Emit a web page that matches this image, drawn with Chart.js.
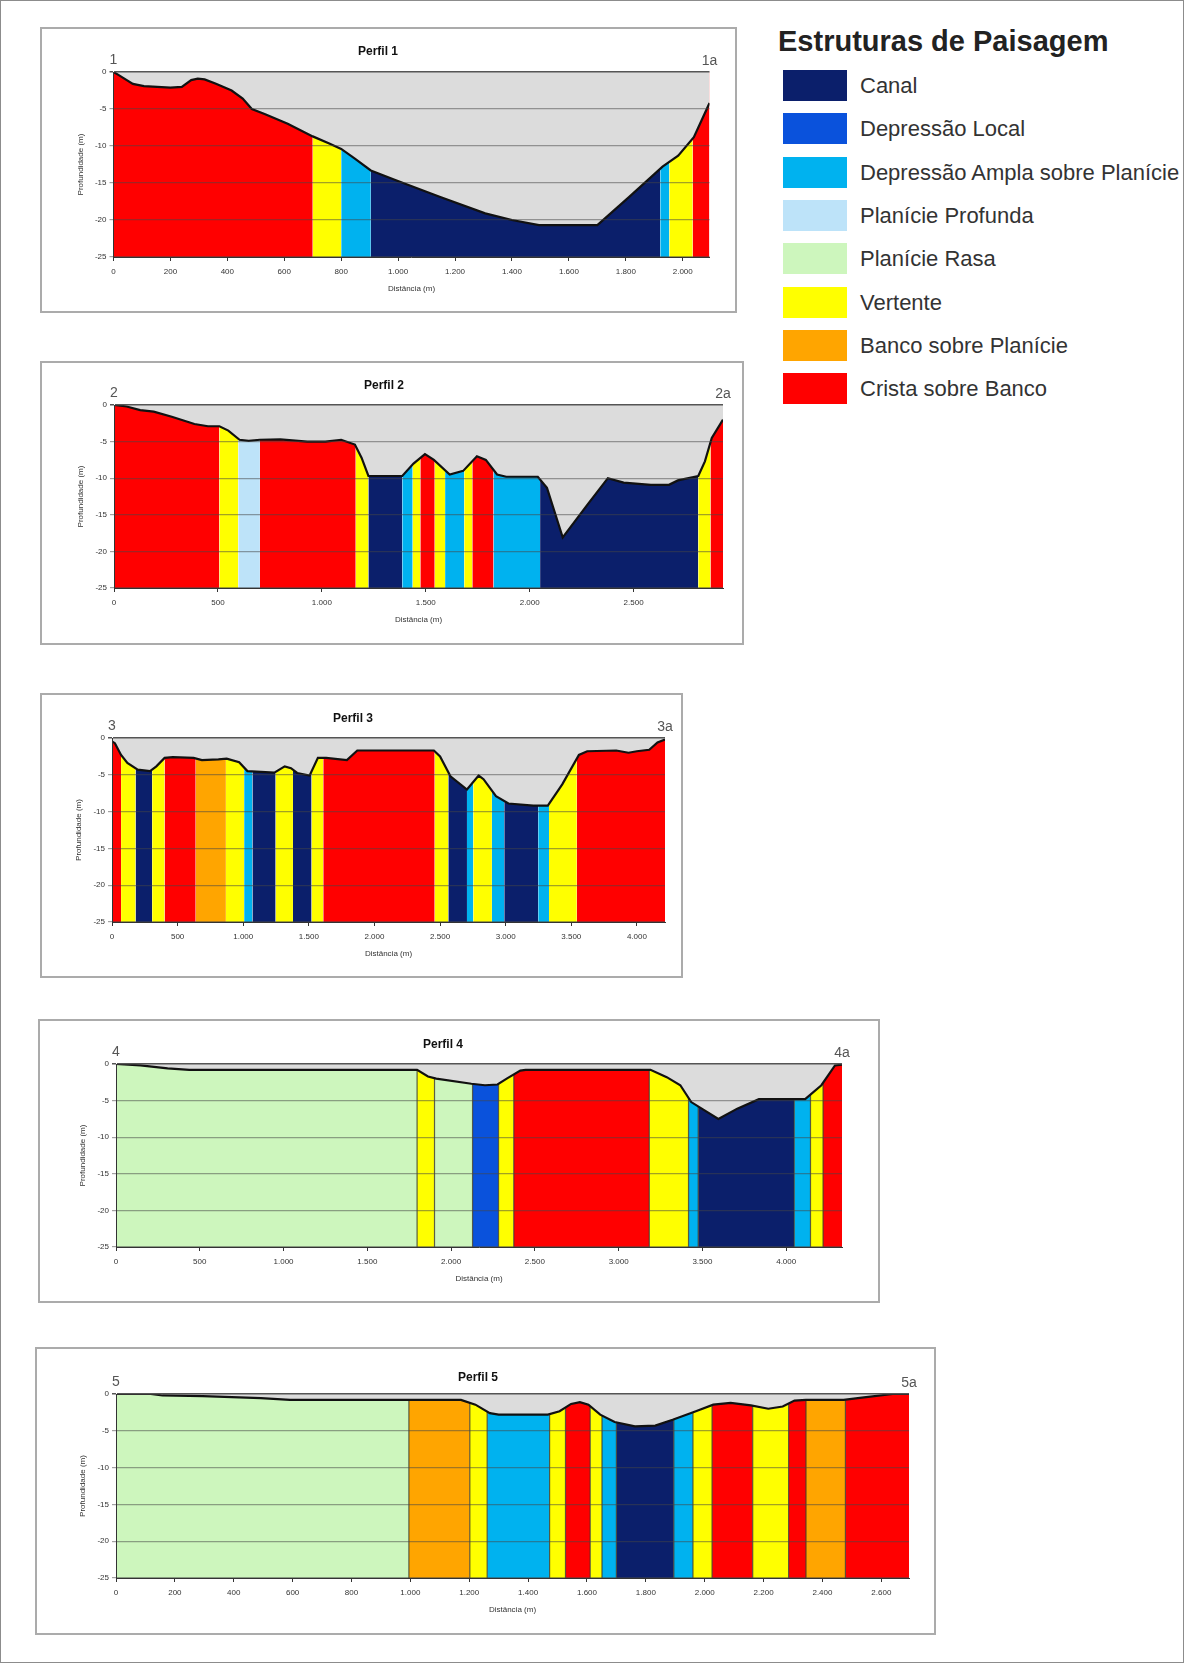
<!DOCTYPE html>
<html lang="pt-BR">
<head>
<meta charset="UTF-8">
<title>Estruturas de Paisagem - Perfis</title>
<script src="https://cdn.jsdelivr.net/npm/chart.js"></script>
<style>
  body { margin: 0; background: #fff; font-family: "Liberation Sans", Arial, sans-serif; }
  .frame { position: absolute; left: 0; top: 0; width: 1184px; height: 1663px; box-sizing: border-box; border: 1px solid #8c8c8c; }
  .box { position: absolute; box-sizing: border-box; border: 2px solid #ababab; }
  canvas { position: absolute; }
  .ttl { position: absolute; font-weight: bold; font-size: 12px; line-height: 1; color: #111; transform: translate(-50%, -50%); white-space: nowrap; }
  .corner { position: absolute; font-size: 14px; line-height: 1; color: #555; transform: translate(-50%, -50%); }
  .legend-title { position: absolute; left: 778px; top: 26px; font-size: 29px; line-height: 30px; font-weight: bold; color: #222; white-space: nowrap; }
  .swatch { position: absolute; left: 783px; width: 64px; height: 31px; }
  .legend-label { position: absolute; left: 860px; font-size: 22px; line-height: 31px; color: #333; white-space: nowrap; }
</style>
</head>
<body>
<div class="frame"></div>
<div class="legend-title">Estruturas de Paisagem</div>

<script>
// classes de estrutura
const classNames = ['Canal', 'Depressão Local', 'Depressão Ampla sobre Planície', 'Planície Profunda',
                    'Planície Rasa', 'Vertente', 'Banco sobre Planície', 'Crista sobre Banco'];
const classColors = ['#0b1f6b', '#0a52dc', '#00b2ef', '#bde3f9', '#cdf6bd', '#ffff00', '#ffa500', '#ff0000'];

// Perfil 1
const p1Dist = [0, 20, 68, 107, 200, 240, 273, 296, 320, 360, 415, 454, 486, 533, 612, 700, 760, 800, 848, 904,
                990, 1148, 1306, 1400, 1495, 1700, 1811, 1929, 1984, 2039, 2094];
const p1Depth = [0, -0.45, -1.6, -1.9, -2.1, -2.0, -1.1, -0.9, -1.0, -1.6, -2.5, -3.6, -5.0, -5.7, -7.0, -8.7, -9.7, -10.4, -11.7, -13.3,
                 -14.6, -16.9, -19.1, -20.0, -20.7, -20.7, -16.9, -12.8, -11.3, -8.8, -4.2];
const p1Bounds = [0, 700, 800, 904, 1921, 1953, 2035, 2094];
const p1Classes = [7, 5, 2, 0, 2, 5, 7];
const p1Ticks = [0, 200, 400, 600, 800, 1000, 1200, 1400, 1600, 1800, 2000];

// Perfil 2
const p2Dist = [0, 61, 126, 191, 278, 387, 452, 507, 550, 604, 648, 702, 800, 930, 1017, 1093, 1159, 1191, 1224, 1387,
                1441, 1496, 1539, 1615, 1680, 1746, 1789, 1843, 1887, 2039, 2083, 2159, 2278, 2376, 2452, 2583, 2670, 2713,
                2811, 2843, 2876, 2930];
const p2Depth = [0, -0.2, -0.7, -0.9, -1.6, -2.6, -2.9, -2.9, -3.5, -4.75, -4.9, -4.75, -4.7, -5.0, -5.0, -4.75, -5.4, -7.2, -9.7, -9.7,
                 -8.0, -6.7, -7.5, -9.5, -9.0, -7.0, -7.5, -9.5, -9.8, -9.8, -11.3, -18.1, -13.6, -10.0, -10.6, -10.9, -10.9, -10.3,
                 -9.7, -7.7, -4.5, -2.0];
const p2Bounds = [0, 507, 598, 702, 1163, 1224, 1387, 1437, 1474, 1543, 1593, 1685, 1724, 1826, 2050, 2811, 2870, 2930];
const p2Classes = [7, 5, 3, 7, 5, 0, 2, 5, 7, 5, 2, 5, 7, 2, 0, 5, 7];
const p2Ticks = [0, 500, 1000, 1500, 2000, 2500];

// Perfil 3
const p3Dist = [0, 22, 69, 117, 196, 290, 338, 401, 464, 622, 685, 811, 874, 969, 1032, 1237, 1316, 1364, 1411, 1506,
                1569, 1632, 1790, 1869, 1948, 2453, 2500, 2579, 2705, 2794, 2831, 2926, 3021, 3210, 3321, 3431, 3558, 3621,
                3842, 3936, 3999, 4094, 4157, 4214];
const p3Depth = [-0.45, -0.7, -2.3, -3.4, -4.3, -4.5, -3.85, -2.7, -2.6, -2.7, -3.0, -2.9, -2.8, -3.3, -4.5, -4.7, -3.85, -4.1, -4.75, -5.1,
                 -2.7, -2.7, -3.0, -1.7, -1.7, -1.7, -2.5, -5.2, -7.0, -5.1, -5.6, -7.9, -8.9, -9.2, -9.2, -6.3, -2.3, -1.8,
                 -1.7, -2.0, -1.8, -1.6, -0.6, -0.2];
const p3Bounds = [0, 69, 180, 306, 401, 638, 868, 1007, 1070, 1247, 1379, 1521, 1610, 2459, 2563, 2705, 2753, 2895, 2989, 3248, 3330, 3542, 4214];
const p3Classes = [7, 5, 0, 5, 7, 6, 5, 2, 0, 5, 0, 5, 7, 5, 0, 2, 5, 2, 0, 2, 5, 7];
const p3Ticks = [0, 500, 1000, 1500, 2000, 2500, 3000, 3500, 4000];

// Perfil 4
const p4Dist = [0, 146, 308, 437, 793, 1797, 1862, 1911, 2121, 2202, 2277, 2332, 2413, 2445, 3190, 3287, 3368, 3433, 3595, 3708,
                3837, 4113, 4210, 4291, 4333];
const p4Depth = [0, -0.2, -0.6, -0.8, -0.8, -0.8, -1.7, -2.0, -2.7, -2.9, -2.8, -2.0, -0.9, -0.8, -0.8, -1.8, -2.9, -5.2, -7.5, -6.1,
                 -4.8, -4.8, -2.9, -0.2, -0.1];
const p4Bounds = [0, 1797, 1901, 2128, 2283, 2374, 3183, 3417, 3475, 4048, 4145, 4220, 4333];
const p4Classes = [4, 5, 4, 1, 5, 7, 5, 2, 0, 2, 5, 7];
const p4Ticks = [0, 500, 1000, 1500, 2000, 2500, 3000, 3500, 4000];

// Perfil 5
const p5Dist = [0, 39, 118, 158, 295, 492, 591, 1005, 1172, 1221, 1270, 1300, 1467, 1507, 1546, 1576, 1605, 1645, 1694, 1763,
                1832, 1891, 1970, 2029, 2088, 2157, 2216, 2265, 2305, 2344, 2472, 2541, 2639, 2694];
const p5Depth = [0, 0, 0, -0.2, -0.3, -0.55, -0.8, -0.8, -0.8, -1.45, -2.6, -2.8, -2.8, -2.35, -1.35, -1.1, -1.45, -2.8, -3.8, -4.4,
                 -4.3, -3.5, -2.35, -1.45, -1.2, -1.55, -2.0, -1.7, -0.9, -0.8, -0.8, -0.45, 0, 0];
const p5Bounds = [0, 995, 1202, 1261, 1473, 1527, 1611, 1651, 1700, 1895, 1960, 2025, 2163, 2285, 2344, 2478, 2694];
const p5Classes = [4, 6, 5, 2, 5, 7, 5, 2, 0, 2, 5, 7, 5, 7, 6, 7];
const p5Ticks = [0, 200, 400, 600, 800, 1000, 1200, 1400, 1600, 1800, 2000, 2200, 2400, 2600];

const depthTicks = [0, -5, -10, -15, -20, -25];

// posições na página (caixa e área do gráfico)
const panels = [
  { n: '1', dist: p1Dist, depth: p1Depth, bounds: p1Bounds, classes: p1Classes, ticks: p1Ticks, edges: false, box: [40, 27, 737, 313],   plot: [113.5, 72, 709.5, 257], title: [378, 51] },
  { n: '2', dist: p2Dist, depth: p2Depth, bounds: p2Bounds, classes: p2Classes, ticks: p2Ticks, edges: false, box: [40, 361, 744, 645],  plot: [114, 405, 723, 588],    title: [384, 385] },
  { n: '3', dist: p3Dist, depth: p3Depth, bounds: p3Bounds, classes: p3Classes, ticks: p3Ticks, edges: false, box: [40, 693, 683, 978],  plot: [112, 738, 665, 922],    title: [353, 718] },
  { n: '4', dist: p4Dist, depth: p4Depth, bounds: p4Bounds, classes: p4Classes, ticks: p4Ticks, edges: true,  box: [38, 1019, 880, 1303], plot: [116, 1064, 842, 1247], title: [443, 1044] },
  { n: '5', dist: p5Dist, depth: p5Depth, bounds: p5Bounds, classes: p5Classes, ticks: p5Ticks, edges: true,  box: [35, 1347, 936, 1635], plot: [116, 1394, 909, 1578], title: [478, 1377] }
];

Chart.defaults.font.family = '"Liberation Sans", Arial, sans-serif';

function fmtDist(v) {
  if (v < 1000) return String(v);
  return Math.floor(v / 1000) + '.' + String(v % 1000).padStart(3, '0');
}

function addText(cls, text, x, y) {
  const d = document.createElement('div');
  d.className = cls;
  d.textContent = text;
  d.style.left = x + 'px';
  d.style.top = y + 'px';
  document.body.appendChild(d);
}

// linhas finas entre as faixas (desenhadas antes do preenchimento cinza do perfil)
const edgeLines = {
  id: 'edgeLines',
  afterDatasetDraw(chart, args, opts) {
    if (args.index !== 1 || !opts.bounds) return;
    const { ctx, chartArea, scales } = chart;
    ctx.save();
    ctx.strokeStyle = 'rgba(55,55,35,0.8)';
    ctx.lineWidth = 1.2;
    opts.bounds.slice(1, -1).forEach(b => {
      const px = scales.x.getPixelForValue(b);
      ctx.beginPath();
      ctx.moveTo(px, chartArea.top);
      ctx.lineTo(px, chartArea.bottom);
      ctx.stroke();
    });
    ctx.restore();
  }
};

function drawProfile(p) {
  const [bl, bt, br, bb] = p.box;
  const [pl, pt, pr, pb] = p.plot;
  const YW = 38, XH = 38;

  const canvas = document.createElement('canvas');
  canvas.width = br - bl;
  canvas.height = bb - bt;
  canvas.style.left = bl + 'px';
  canvas.style.top = bt + 'px';
  document.body.appendChild(canvas);

  const border = document.createElement('div');
  border.className = 'box';
  border.style.left = bl + 'px';
  border.style.top = bt + 'px';
  border.style.width = (br - bl) + 'px';
  border.style.height = (bb - bt) + 'px';
  document.body.appendChild(border);

  addText('ttl', 'Perfil ' + p.n, p.title[0], p.title[1]);
  addText('corner', p.n, pl, pt - 13);
  addText('corner', p.n + 'a', pr, pt - 12);

  new Chart(canvas, {
    type: 'line',
    data: {
      datasets: [
        {
          label: 'Perfil ' + p.n,
          data: p.dist.map((d, i) => ({ x: d, y: p.depth[i] })),
          borderColor: '#111',
          borderWidth: 2.2,
          backgroundColor: '#dcdcdc',
          fill: 'end',
          pointRadius: 0,
          tension: 0,
          order: 1
        },
        {
          label: 'Estruturas',
          data: p.bounds.map(b => ({ x: b, y: 0 })),
          borderColor: 'rgba(0,0,0,0)',
          borderWidth: 1,
          fill: 'start',
          pointRadius: 0,
          tension: 0,
          order: 2,
          segment: {
            backgroundColor: c => classColors[p.classes[c.p0DataIndex]]
          }
        }
      ]
    },
    plugins: [edgeLines],
    options: {
      responsive: false,
      animation: false,
      events: [],
      layout: { padding: { left: pl - bl - YW, top: pt - bt, right: br - pr, bottom: bb - pb - XH } },
      plugins: {
        legend: { display: false },
        tooltip: { enabled: false },
        edgeLines: { bounds: p.edges ? p.bounds : null }
      },
      scales: {
        x: {
          type: 'linear',
          min: 0,
          max: p.bounds[p.bounds.length - 1],
          afterBuildTicks: s => { s.ticks = p.ticks.map(v => ({ value: v })); },
          ticks: { autoSkip: false, maxRotation: 0, padding: 6, font: { size: 8 }, color: '#333', callback: fmtDist },
          grid: { drawOnChartArea: false, drawTicks: true, tickLength: 4, color: '#333', z: 1 },
          border: { color: '#333', width: 1, z: 2 },
          title: { display: true, text: 'Distância (m)', font: { size: 8 }, color: '#333', padding: { top: 0, bottom: 1 } },
          afterFit: s => { s.height = XH; }
        },
        y: {
          min: -25,
          max: 0,
          afterBuildTicks: s => { s.ticks = depthTicks.map(v => ({ value: v })); },
          ticks: { font: { size: 8 }, color: '#333', padding: 3 },
          grid: {
            z: 1,
            color: c => (c.tick && c.tick.value === 0) ? '#555' : 'rgba(70,70,70,0.5)',
            lineWidth: c => (c.tick && c.tick.value === 0) ? 1.5 : 1.2,
            tickLength: 4
          },
          border: { color: '#333', width: 1, z: 2 },
          title: { display: true, text: 'Profundidade (m)', font: { size: 8 }, color: '#333', padding: { top: 0, bottom: 0 } },
          afterFit: s => { s.width = YW; }
        }
      }
    }
  });
}

panels.forEach(drawProfile);

// legenda
classNames.forEach((name, i) => {
  const top = 70 + i * 43.3;
  const sw = document.createElement('div');
  sw.className = 'swatch';
  sw.style.top = top + 'px';
  sw.style.background = classColors[i];
  document.body.appendChild(sw);
  const lb = document.createElement('div');
  lb.className = 'legend-label';
  lb.style.top = top + 'px';
  lb.textContent = name;
  document.body.appendChild(lb);
});
</script>
</body>
</html>
